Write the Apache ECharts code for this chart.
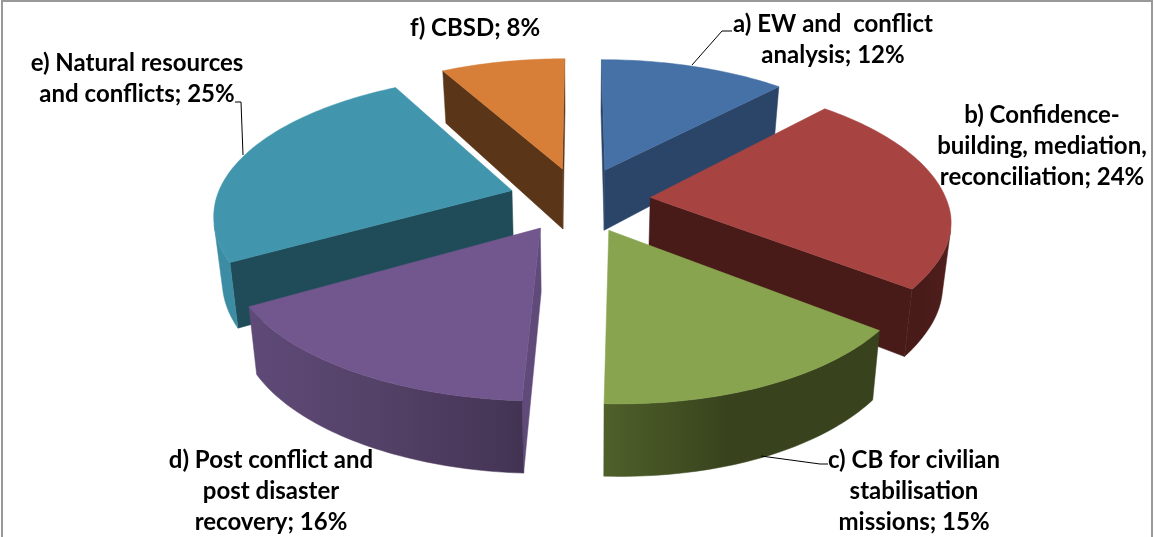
<!DOCTYPE html>
<html>
<head>
<meta charset="utf-8">
<style>html,body{margin:0;padding:0;background:#fff}#chart{width:1154px;height:537px}</style>
<script src="https://cdn.jsdelivr.net/npm/echarts@6/dist/echarts.min.js"></script>
</head>
<body>
<div id="chart"></div>
<script>
// Shares of activity by theme, clockwise from twelve o'clock
var categories = [
  'a) EW and  conflict\nanalysis',
  'b) Confidence-\nbuilding, mediation,\nreconciliation',
  'c) CB for civilian\nstabilisation\nmissions',
  'd) Post conflict and\npost disaster\nrecovery',
  'e) Natural resources\nand conflicts',
  'f) CBSD'
];
var shares = [12, 24, 15, 16, 25, 8];

// Fill colours per slice
var topColors = ['#4671A6', '#A74442', '#88A44F', '#71578E', '#4196AE', '#D77F39'];
var faceColors = ['#2B4568', '#481B19', '#38431D', '#5F4A7A', '#1F4C58', '#5B3517'];
var wallLeft = ['#2B4568', '#481B19', '#4F602A', '#5F4A78', '#3C8DA4', '#5B3517'];
var wallMid = ['#2B4568', '#481B19', '#38431D', '#544268', '#3C8DA4', '#5B3517'];
var wallRight = ['#2B4568', '#521F1D', '#38431D', '#433353', '#3C8DA4', '#5B3517'];

// Back slices are painted first so nearer ones overlap them
var paintRank = [0, 3, 5, 4, 2, 1];

// Label anchors and leader paths, in page pixels
var labelPlacement = [
  { x: 833, y: 40 }, { x: 1042, y: 146 }, { x: 914, y: 491 },
  { x: 271, y: 491 }, { x: 137, y: 79 }, { x: 475, y: 28 }
];
var leaders = [
  [[692, 65], [722, 31], [732, 31]],
  null,
  [[761, 456], [820, 464], [828, 464]],
  null,
  [[243, 155], [241, 102], [235, 102]],
  null
];

// Tilted-disc camera
var view = { cx: 579.5, cy: 199.5, rx: 296, ry: 136, persp: 0.155, explode: 0.24, depth: 62, taper: 0.023 };

function project(px, py, z) {
  var s = 1 / (1 - view.persp * py);
  var front = Math.max(py, 0);
  // The near half of the disc drifts slightly right and rolls a little
  var driftX = 7 * front * front * front;
  var rollY = -(px < 0 ? 3 : 4) * px * Math.min(1, front / 0.5);
  return [
    view.cx + view.rx * px * s * (1 - view.taper * z) + driftX,
    view.cy + view.ry * py * s + rollY + z * view.depth * (1 + 0.14 * py)
  ];
}

function shoelace(pts) {
  var a = 0;
  for (var i = 0; i < pts.length; i++) {
    var p = pts[i], q = pts[(i + 1) % pts.length];
    a += p[0] * q[1] - q[0] * p[1];
  }
  return a;
}

var total = shares.reduce(function (s, v) { return s + v; }, 0);

function sliceElements(i) {
  var before = shares.slice(0, i).reduce(function (s, v) { return s + v; }, 0);
  var a0 = before / total * 2 * Math.PI;
  var a1 = (before + shares[i]) / total * 2 * Math.PI;
  var mid = (a0 + a1) / 2;
  var ox = view.explode * Math.sin(mid), oy = -view.explode * Math.cos(mid);
  var rim = function (t, z) { return project(ox + Math.sin(t), oy - Math.cos(t), z); };
  var apexTop = project(ox, oy, 0), apexBot = project(ox, oy, 1);

  var base = paintRank[i] * 10;
  var out = [];
  var poly = function (points, fill, k) {
    out.push({ type: 'polygon', z2: base + k, shape: { points: points },
      style: { fill: fill, stroke: fill, lineWidth: 0.5 } });
  };

  // Straight cut faces, only when they look towards the viewer
  var startFace = [apexTop, rim(a0, 0), rim(a0, 1), apexBot];
  var endFace = [apexTop, rim(a1, 0), rim(a1, 1), apexBot];
  if (shoelace(startFace) < 0) poly(startFace, faceColors[i], 1);
  if (shoelace(endFace) > 0) poly(endFace, faceColors[i], 1);

  // Curved rim: keep the sampled span facing the viewer
  var n = Math.max(8, Math.round((a1 - a0) / 0.02));
  var upper = [], lower = [];
  for (var j = 0; j < n; j++) {
    var t = a0 + (a1 - a0) * j / n, u = a0 + (a1 - a0) * (j + 1) / n;
    var quad = [rim(t, 0), rim(u, 0), rim(u, 1), rim(t, 1)];
    if (shoelace(quad) < 0) {
      if (!upper.length) { upper.push(quad[0]); lower.push(quad[3]); }
      upper.push(quad[1]); lower.push(quad[2]);
    }
  }
  if (upper.length) {
    poly(upper.concat(lower.reverse()), new echarts.graphic.LinearGradient(0, 0, 1, 0, [
      { offset: 0, color: wallLeft[i] },
      { offset: 0.45, color: wallMid[i] },
      { offset: 1, color: wallRight[i] }
    ]), 2);
  }

  // Top face
  var top = [apexTop];
  for (var k = 0; k <= n; k++) top.push(rim(a0 + (a1 - a0) * k / n, 0));
  poly(top, topColors[i], 3);

  // Leader and label sit above every slice
  if (leaders[i]) {
    out.push({ type: 'polyline', z2: 200, shape: { points: leaders[i] },
      style: { fill: null, stroke: '#000', lineWidth: 1 } });
  }
  out.push({ type: 'text', z2: 210, x: labelPlacement[i].x, y: labelPlacement[i].y,
    style: { text: categories[i] + '; ' + shares[i] + '%', fill: '#000', align: 'center',
      verticalAlign: 'middle', font: 'bold 24px Lato, "Open Sans", sans-serif', lineHeight: 31 } });

  return { type: 'group', children: out };
}

var chart = echarts.init(document.getElementById('chart'), null, { renderer: 'canvas' });
chart.setOption({
  animation: false,
  backgroundColor: '#fff',
  graphic: [{
    type: 'rect', z: -1, silent: true,
    shape: { x: 2, y: 1, width: 1150, height: 540 },
    style: { fill: '#fff', stroke: '#999', lineWidth: 2 }
  }],
  series: [{
    type: 'custom',
    coordinateSystem: 'none',
    silent: true,
    data: shares,
    renderItem: function (params) { return sliceElements(params.dataIndex); }
  }]
});
</script>
</body>
</html>
